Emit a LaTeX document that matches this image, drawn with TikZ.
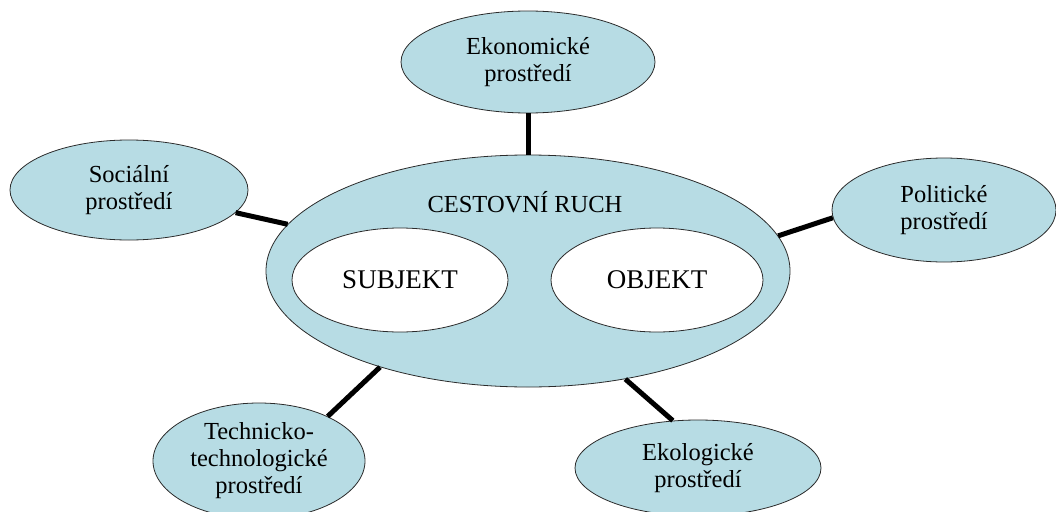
\documentclass[tikz,border=0pt]{standalone}
\usepackage{fontspec}
\setmainfont{Liberation Serif}
\usetikzlibrary{shapes.geometric}
\definecolor{cxsky}{HTML}{B7DCE4}
\definecolor{cxedge}{HTML}{2B2B2B}

\begin{document}
\begin{tikzpicture}[x=1pt, y=-1pt,
  every node/.style={font=\fontsize{24.5}{27}\selectfont},
  env/.style={ellipse, draw=cxedge, fill=cxsky, inner sep=0pt, align=center, line width=0.8pt},
  part/.style={ellipse, draw=cxedge, fill=white, inner sep=0pt, line width=0.8pt, font=\fontsize{27}{30}\selectfont},
  link/.style={line width=5pt, black},
]
\useasboundingbox (0,0) rectangle (1056,511);

% Centre
\node[env, minimum width=524pt, minimum height=232pt] (cr) at (528,271) {};
\node[anchor=base] (crtitle) at (525,212) {CESTOVNÍ RUCH};
\node[part, minimum width=216pt, minimum height=104pt] (subj) at (400,280) {SUBJEKT};
\node[part, minimum width=212pt, minimum height=104pt] (obj) at (657,280) {OBJEKT};

% Surroundings
\node[env, minimum width=254pt, minimum height=102pt] (ekon) at (528,62) {Ekonomické\\prostředí};
\node[env, minimum width=238pt, minimum height=100pt] (soc) at (129,190) {Sociální\\prostředí};
\node[env, minimum width=224pt, minimum height=104pt] (pol) at (944,210) {Politické\\prostředí};
\node[env, minimum width=212pt, minimum height=116pt] (tech) at (259,461) {Technicko-\\technologické\\prostředí};
\node[env, minimum width=246pt, minimum height=96pt] (ekol) at (698,468) {Ekologické\\prostředí};

% Links
\draw[link] (ekon.south) -- (cr.north);
\draw[link] (soc.348) -- (cr.169);
\draw[link] (pol.184) -- (cr.8.5);
\draw[link] (tech.33) -- (cr.213);
\draw[link] (ekol.118) -- (cr.312);

\end{tikzpicture}
\end{document}
